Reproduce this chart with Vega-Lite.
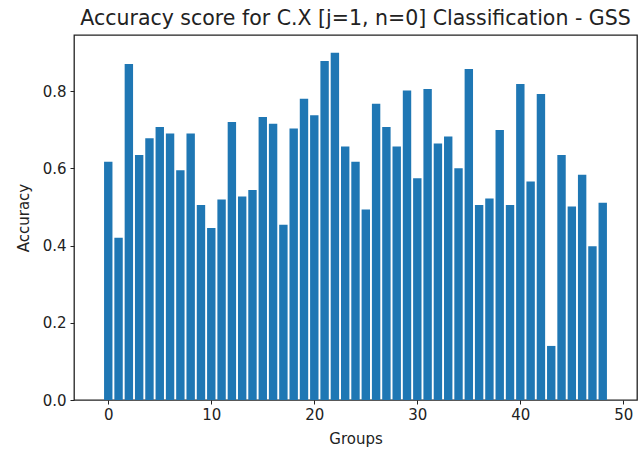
{
  "$schema": "https://vega.github.io/schema/vega-lite/v6.json",
  "width": 563,
  "height": 365,
  "autosize": {"type": "none"},
  "padding": {"left": 74, "top": 35, "right": 3, "bottom": 57},
  "background": "white",
  "title": {"text": "Accuracy score for C.X  [j=1, n=0] Classification - GSS", "font": "DejaVu Sans", "fontSize": 20.5, "fontWeight": "normal", "color": "#222", "offset": 6, "anchor": "middle"},
  "config": {
    "view": {"stroke": "#222", "strokeWidth": 1.3},
    "axis": {"grid": false, "domain": false, "tickColor": "#222", "tickSize": 4, "labelFont": "DejaVu Sans", "labelFontSize": 15, "labelColor": "#222", "titleFont": "DejaVu Sans", "titleFontSize": 15, "titleFontWeight": "normal", "titleColor": "#222"}
  },
  "data": {"values": [
    {"group": 0, "accuracy": 0.617}, {"group": 1, "accuracy": 0.42}, {"group": 2, "accuracy": 0.87},
    {"group": 3, "accuracy": 0.634}, {"group": 4, "accuracy": 0.678}, {"group": 5, "accuracy": 0.707},
    {"group": 6, "accuracy": 0.69}, {"group": 7, "accuracy": 0.595}, {"group": 8, "accuracy": 0.69},
    {"group": 9, "accuracy": 0.505}, {"group": 10, "accuracy": 0.445}, {"group": 11, "accuracy": 0.519},
    {"group": 12, "accuracy": 0.72}, {"group": 13, "accuracy": 0.527}, {"group": 14, "accuracy": 0.544},
    {"group": 15, "accuracy": 0.733}, {"group": 16, "accuracy": 0.715}, {"group": 17, "accuracy": 0.454},
    {"group": 18, "accuracy": 0.703}, {"group": 19, "accuracy": 0.78}, {"group": 20, "accuracy": 0.737},
    {"group": 21, "accuracy": 0.878}, {"group": 22, "accuracy": 0.899}, {"group": 23, "accuracy": 0.656},
    {"group": 24, "accuracy": 0.617}, {"group": 25, "accuracy": 0.493}, {"group": 26, "accuracy": 0.767},
    {"group": 27, "accuracy": 0.707}, {"group": 28, "accuracy": 0.656}, {"group": 29, "accuracy": 0.801},
    {"group": 30, "accuracy": 0.574}, {"group": 31, "accuracy": 0.805}, {"group": 32, "accuracy": 0.664},
    {"group": 33, "accuracy": 0.682}, {"group": 34, "accuracy": 0.6}, {"group": 35, "accuracy": 0.857},
    {"group": 36, "accuracy": 0.505}, {"group": 37, "accuracy": 0.522}, {"group": 38, "accuracy": 0.699},
    {"group": 39, "accuracy": 0.505}, {"group": 40, "accuracy": 0.818}, {"group": 41, "accuracy": 0.566},
    {"group": 42, "accuracy": 0.792}, {"group": 43, "accuracy": 0.14}, {"group": 44, "accuracy": 0.634},
    {"group": 45, "accuracy": 0.501}, {"group": 46, "accuracy": 0.583}, {"group": 47, "accuracy": 0.398},
    {"group": 48, "accuracy": 0.511}
  ]},
  "mark": {"type": "bar", "color": "#1f77b4", "size": 8.4, "clip": true},
  "encoding": {
    "x": {"field": "group", "type": "quantitative", "title": "Groups",
      "scale": {"domain": [-2.84, 50.84], "nice": false, "zero": false},
      "axis": {"values": [0, 10, 20, 30, 40, 50], "format": "d", "labelPadding": 3, "titlePadding": 9}},
    "y": {"field": "accuracy", "type": "quantitative", "title": "Accuracy",
      "scale": {"domain": [0, 0.945], "nice": false},
      "axis": {"values": [0, 0.2, 0.4, 0.6, 0.8], "format": ".1f", "labelPadding": 4, "titlePadding": 11}}
  }
}
